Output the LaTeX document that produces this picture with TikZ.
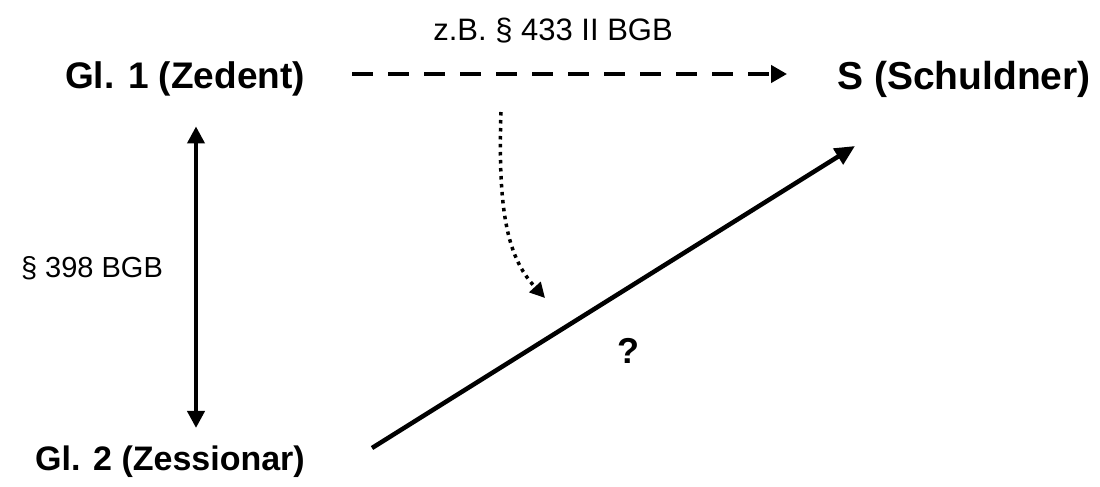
\documentclass[tikz,border=0pt]{standalone}
\usepackage{fontspec}
\setmainfont{Liberation Sans}
\usetikzlibrary{arrows.meta}

\begin{document}
\begin{tikzpicture}[x=1pt, y=-1pt,
      every node/.style={inner sep=0pt},
      party/.style={font=\fontsize{36}{40}\selectfont\bfseries},
      law/.style={font=\fontsize{29}{34}\selectfont},
      claim/.style={line width=4pt, dash pattern=on 21pt off 15pt, -{Triangle[length=16pt, width=17pt]}},
      assign/.style={line width=4pt, {Triangle[length=17pt, width=17pt]}-{Triangle[length=17pt, width=17pt]}},
      question/.style={line width=4.5pt, -{Triangle[length=20pt, width=18pt]}},
      transfer/.style={line width=3.5pt, dash pattern=on 3.5pt off 4.5pt, -{Triangle[length=15pt, width=15pt]}}
  ]
    \useasboundingbox (0,0) rectangle (1100,487);

    \node[party, font=\fontsize{37}{40}\selectfont\bfseries] (zedent) at (185,79) {Gl. 1 (Zedent)};
    \node[party, font=\fontsize{39}{40}\selectfont\bfseries] (schuldner) at (964,79) {S (Schuldner)};
    \node[party, font=\fontsize{34}{40}\selectfont\bfseries] (zessionar) at (170,462) {Gl. 2 (Zessionar)};
    \node[law, font=\fontsize{31}{34}\selectfont] (bgb433) at (553,31) {z.B. § 433 II BGB};
    \node[law] (bgb398) at (92,268) {§ 398 BGB};
    \node[party] (frage) at (628,351) {?};

    \coordinate (qstart) at (372,448);
    \coordinate (qend) at (855,146);
    \coordinate (tstart) at (501,112);
    \coordinate (tend) at (545,298);

    \draw[claim] ([xshift=47pt]zedent.east |- 0,74) -- ([xshift=-50pt]schuldner.west |- 0,74);
    \draw[assign] ([xshift=11pt, yshift=-30pt]zedent.south) -- ([xshift=26pt, yshift=18pt]zessionar.north);
    \draw[question] (qstart) -- (qend);
    \draw[transfer] (tstart) .. controls (497,225) and (512,262) .. (tend);
  \end{tikzpicture}
\end{document}
